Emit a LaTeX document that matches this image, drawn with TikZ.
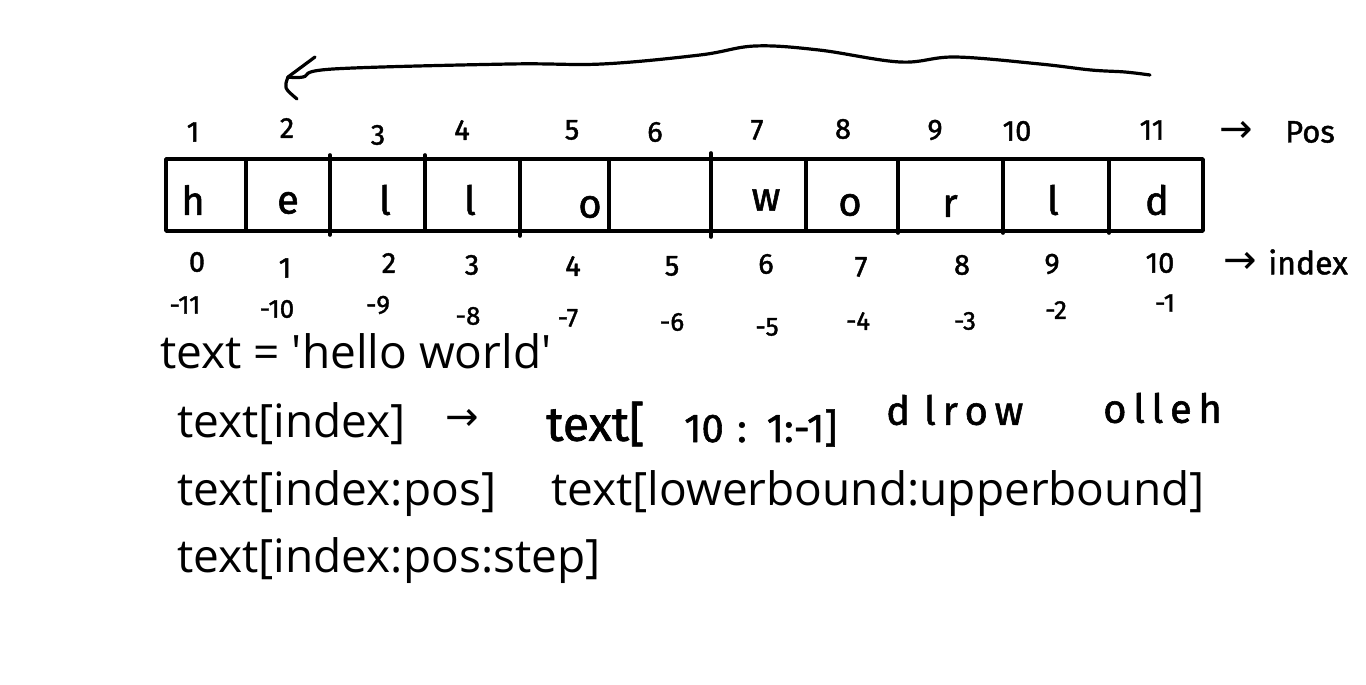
\documentclass[tikz,border=0pt]{standalone}
\usepackage{fontspec}
\setmainfont{Open Sans}
\newfontfamily\hand{Fira Sans}[FakeBold=1.4]
\newfontfamily\sym{DejaVu Sans}
\begin{document}
\begin{tikzpicture}[x=1pt,y=-1pt,line cap=round,line join=round]
\useasboundingbox[fill=white] (0,0) rectangle (1366,685);
\tikzset{
  ink/.style={line width=3.6pt,black},
  arrowink/.style={line width=3.2pt,black},
  cellchar/.style={font=\hand\fontsize{40}{40}\selectfont,inner sep=0pt},
  poslbl/.style={font=\hand\fontsize{29}{29}\selectfont,inner sep=0pt},
  neglbl/.style={font=\hand\fontsize{26}{26}\selectfont,inner sep=0pt},
  handtxt/.style={font=\hand\fontsize{48}{48}\selectfont,inner sep=0pt},
  revtxt/.style={font=\hand\fontsize{40}{40}\selectfont,inner sep=0pt,anchor=west},
  symtxt/.style={font=\sym\fontsize{40}{40}\selectfont,inner sep=0pt},
  typed/.style={font=\fontsize{46}{50}\selectfont,anchor=base west,inner sep=0pt},
}
% the string box
\draw[ink] (166,159) rectangle (1203,231);
\foreach \x/\a/\b in {246/159/231,330/155/235,425/155/231,520/159/236,609/159/231,711/153/237,806/159/231,898/159/233,1003/159/233,1109/159/233}
  \draw[ink] (\x,\a) -- (\x,\b);
% characters
\node[cellchar] (ch) at (193,200) {h};
\node[cellchar] (ce) at (288,203) {e};
\node[cellchar] (cl1) at (385,200) {l};
\node[cellchar] (cl2) at (470,200) {l};
\node[cellchar] (co1) at (590,207) {o};
\node[cellchar] (cw) at (766,200) {w};
\node[cellchar] (co2) at (850,205) {o};
\node[cellchar] (cr) at (950,206) {r};
\node[cellchar] (cl3) at (1053,200) {l};
\node[cellchar] (cd) at (1157,200) {d};
% positions
\node[poslbl] (p1) at (193,132) {1};
\node[poslbl] (p2) at (287,128) {2};
\node[poslbl] (p3) at (378,135) {3};
\node[poslbl] (p4) at (462,130) {4};
\node[poslbl] (p5) at (572,130) {5};
\node[poslbl] (p6) at (655,132) {6};
\node[poslbl] (p7) at (757,130) {7};
\node[poslbl] (p8) at (843,129) {8};
\node[poslbl] (p9) at (935,130) {9};
\node[poslbl] (p10) at (1017,131) {10};
\node[poslbl] (p11) at (1152,130) {11};
\node[symtxt] (parr) at (1236,132) {→};
\node[poslbl,font=\hand\fontsize{31}{31}\selectfont] (pos) at (1310,132) {Pos};
% indices
\node[poslbl] (i0) at (197,262) {0};
\node[poslbl] (i1) at (285,268) {1};
\node[poslbl] (i2) at (389,263) {2};
\node[poslbl] (i3) at (472,265) {3};
\node[poslbl] (i4) at (573,266) {4};
\node[poslbl] (i5) at (672,266) {5};
\node[poslbl] (i6) at (766,264) {6};
\node[poslbl] (i7) at (861,267) {7};
\node[poslbl] (i8) at (962,265) {8};
\node[poslbl] (i9) at (1052,264) {9};
\node[poslbl] (i10) at (1160,263) {10};
\node[symtxt] (iarr) at (1240,263) {→};
\node[poslbl,font=\hand\fontsize{32}{32}\selectfont] (idx) at (1308,262) {index};
% negative indices
\node[neglbl] (n11) at (185,305) {-11};
\node[neglbl] (n10) at (277,309) {-10};
\node[neglbl] (n9) at (378,305) {-9};
\node[neglbl] (n8) at (468,316) {-8};
\node[neglbl] (n7) at (568,318) {-7};
\node[neglbl] (n6) at (672,322) {-6};
\node[neglbl] (n5) at (767,327) {-5};
\node[neglbl] (n4) at (858,321) {-4};
\node[neglbl] (n3) at (965,321) {-3};
\node[neglbl] (n2) at (1056,310) {-2};
\node[neglbl] (n1) at (1165,303) {-1};
% typed text
\node[typed] (t0) at (160,368) {text = \textquotesingle hello world\textquotesingle};
\node[typed] (t1) at (177,437) {text[index]};
\node[typed] (t2) at (177,505) {text[index:pos]};
\node[typed] (t3) at (551,505) {text[lowerbound:upperbound]};
\node[typed] (t4) at (177,572) {text[index:pos:step]};
% handwritten notes
\node[symtxt] (harr) at (462,420) {→};
\node[handtxt,anchor=west] (slicea) at (546,424) {text[};
\node[handtxt,anchor=west,font=\hand\fontsize{40}{40}\selectfont] (sliceb) at (684,428) {10\,\,:\,\,\,1:-1]};
\node[revtxt] (rev1) at (886,410) {d\hspace{14pt}l\,r\,o\,w};
\node[revtxt] (rev2) at (1103,408) {o\,l\,l\,e\,h};
% long arrow from above 11 back to above 2
\coordinate (astart) at (1150,75);
\coordinate (atip) at (288,77);
\draw[arrowink] plot[smooth,tension=0.6] coordinates {(1150,75) (1125,72) (1091,70) (1040,64) (955,57) (900,62) (819,50) (755,46) (700,55) (602,64) (510,64) (333,69) (303,77) (288,77)};
\draw[arrowink] (atip) -- (315,57);
\draw[arrowink] (atip) .. controls (284,88) .. (297,99);
\end{tikzpicture}
\end{document}
